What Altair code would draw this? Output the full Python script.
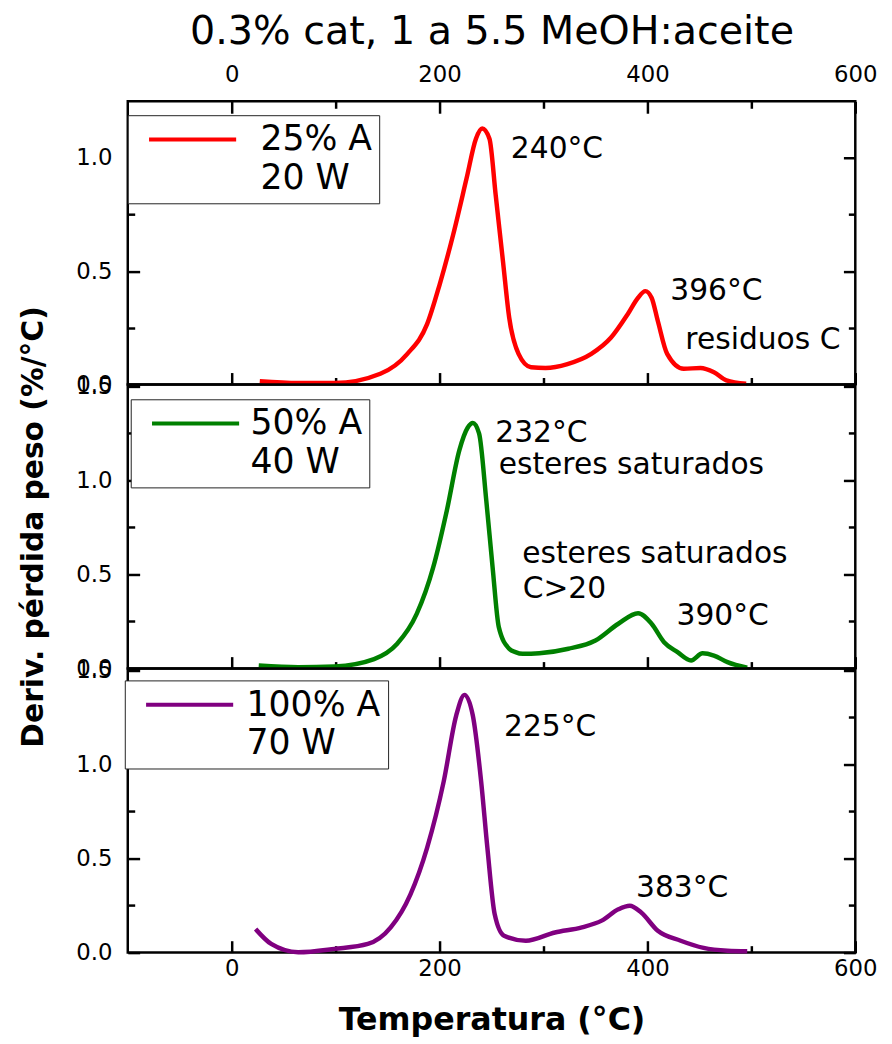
import altair as alt
import pandas as pd

FONT = "DejaVu Sans"

# ---------------- data ----------------
temp_25 = [27, 64, 99, 143, 169, 188, 200, 213, 226, 235, 241, 248, 254, 261, 267, 276, 288,
           302, 323, 346, 365, 381, 391, 398, 404, 410, 419, 435, 451, 464, 476, 495]
dtg_25 = [0.014, 0.006, 0.006, 0.047, 0.135, 0.266, 0.44, 0.66, 0.91, 1.085, 1.13, 1.085,
          0.836, 0.544, 0.295, 0.135, 0.076, 0.073, 0.09, 0.135, 0.207, 0.31, 0.383, 0.412,
          0.383, 0.28, 0.135, 0.069, 0.073, 0.054, 0.018, 0.003]

temp_50 = [26, 64, 99, 137, 159, 178, 194, 207, 219, 227, 232, 238, 245, 251, 257, 267, 273,
           280, 296, 324, 350, 372, 391, 404, 416, 429, 442, 453, 464, 477, 496]
dtg_50 = [0.016, 0.007, 0.011, 0.05, 0.13, 0.29, 0.54, 0.84, 1.16, 1.28, 1.305, 1.25, 0.89,
          0.54, 0.22, 0.105, 0.087, 0.078, 0.081, 0.105, 0.149, 0.238, 0.294, 0.238, 0.14,
          0.087, 0.043, 0.081, 0.069, 0.034, 0.004]

temp_100 = [23, 38, 64, 99, 131, 153, 172, 188, 204, 216, 224, 232, 240, 246, 253, 262, 283,
            311, 337, 356, 372, 383, 394, 410, 432, 454, 477, 496]
dtg_100 = [0.125, 0.046, 0.002, 0.02, 0.046, 0.134, 0.31, 0.557, 0.91, 1.26, 1.37, 1.26, 0.91,
           0.557, 0.205, 0.09, 0.063, 0.107, 0.134, 0.17, 0.23, 0.249, 0.213, 0.116, 0.063,
           0.025, 0.01, 0.007]

legend_line1 = ["25% A", "50% A", "100% A"]
legend_line2 = ["20 W", "40 W", "70 W"]
colors = ["#ff0000", "#008000", "#800080"]

x_ticks_major = [0, 200, 400, 600]
x_ticks_minor = [100, 300, 500]
y_ticks_major = [[0, 0.5, 1.0], [0, 0.5, 1.0, 1.5], [0, 0.5, 1.0, 1.5]]
y_ticks_minor = [[0.25, 0.75], [0.25, 0.75, 1.25], [0.25, 0.75, 1.25]]
y_max = [1.25, 1.51, 1.51]

ann_panel = [0, 0, 0, 1, 1, 1, 1, 1, 2, 2]
ann_text = ["240°C", "396°C", "residuos C", "232°C", "esteres saturados",
            "esteres saturados", "C>20", "390°C", "225°C", "383°C"]
ann_x = [268.6, 422, 436.5, 253.6, 256.9, 279.5, 280, 428, 262, 389]
ann_y = [1.04, 0.41, 0.194, 1.25, 1.08, 0.61, 0.42, 0.28, 1.2, 0.344]

title_text = "0.3% cat, 1 a 5.5 MeOH:aceite"
x_title = "Temperatura (°C)"
y_title = "Deriv. pérdida peso (%/°C)"

# ---------------- layout / style ----------------
W = 735
HEIGHTS = [286, 287, 287]
TICK_W = 2.5
MAJOR = 12
MINOR = 7
legend_pos = [(0, 14, 51), (3, 15, 38), (-3, 12, 40)]  # legendX, legendY, labelOffset


def tick_axis(orient, values, size, offset):
    return alt.Axis(orient=orient, values=values, tickSize=size, offset=offset,
                    labels=False, domain=False, grid=False, ticks=True,
                    tickColor="black", tickWidth=TICK_W, title=None)


def label_axis(orient, values, fmt, pad, title=None, tsize=None, tweight="normal", tpad=0):
    kw = dict(orient=orient, values=values, ticks=False, tickSize=0, domain=False,
              grid=False, labels=True, labelFont=FONT, labelFontSize=23,
              labelColor="black", labelPadding=pad, labelFlush=False,
              labelOverlap=False, format=fmt)
    if title:
        kw.update(title=title, titleFont=FONT, titleFontSize=tsize,
                  titleFontWeight=tweight, titlePadding=tpad, titleColor="black")
    else:
        kw["title"] = None
    return alt.Axis(**kw)


def panel(i, temps, vals):
    H = HEIGHTS[i]
    n1, n2 = legend_line1[i], legend_line2[i]
    df = pd.DataFrame({"T": temps, "D": vals, "S": n1})
    xs = alt.Scale(domain=[-100, 600], nice=False, zero=False)
    ys = alt.Scale(domain=[0, y_max[i]], nice=False, zero=False)

    xaxes = []
    if i == 0:
        xaxes.append(label_axis("top", x_ticks_major, "d", 15, title_text, 40, "normal", 12))
    if i == 2:
        xaxes.append(label_axis("bottom", x_ticks_major, "d", 5, x_title, 32, "bold", 25))
    xaxes.append(tick_axis("top", x_ticks_major, MAJOR, -H))
    xaxes.append(tick_axis("top", x_ticks_minor, MINOR, -H))
    if i == 0:
        xaxes.append(tick_axis("bottom", x_ticks_major, MAJOR, -H))
        xaxes.append(tick_axis("bottom", x_ticks_minor, MINOR, -H))

    yaxes = [
        label_axis("left", y_ticks_major[i], ".1f", 16,
                   y_title if i == 1 else None, 30, "bold", 28),
        tick_axis("right", y_ticks_major[i], MAJOR, -W),
        tick_axis("right", y_ticks_minor[i], MINOR, -W),
        tick_axis("left", y_ticks_major[i], MAJOR, -W),
        tick_axis("left", y_ticks_minor[i], MINOR, -W),
    ]

    lx, ly, loff = legend_pos[i]
    n = max(len(xaxes), len(yaxes))
    layers = []
    for k in range(n):
        xa = xaxes[k] if k < len(xaxes) else None
        ya = yaxes[k] if k < len(yaxes) else None
        enc = dict(x=alt.X("T:Q", scale=xs, axis=xa), y=alt.Y("D:Q", scale=ys, axis=ya))
        if k == 0:
            lay = alt.Chart(df).mark_line(strokeWidth=4.5, interpolate="monotone").encode(
                color=alt.Color("S:N",
                                scale=alt.Scale(domain=[n1, n2], range=[colors[i], "transparent"]),
                                legend=alt.Legend(orient="none", legendX=lx, legendY=ly, title=None,
                                                  symbolType="M-4,0H4", symbolSize=484,
                                                  symbolStrokeWidth=4, symbolOffset=41,
                                                  labelOffset=loff, labelFont=FONT,
                                                  labelFontSize=35, labelColor="black",
                                                  labelLimit=300, padding=7, rowPadding=3,
                                                  strokeColor="#222222", fillColor="white")),
                **enc)
        else:
            lay = alt.Chart(df).mark_line(opacity=0).encode(**enc)
        layers.append(lay)

    adf = pd.DataFrame({
        "t": [t for p, t in zip(ann_panel, ann_text) if p == i],
        "x": [x for p, x in zip(ann_panel, ann_x) if p == i],
        "y": [y for p, y in zip(ann_panel, ann_y) if p == i],
    })
    txt = alt.Chart(adf).mark_text(align="left", baseline="middle", font=FONT, fontSize=30,
                                   color="black").encode(
        x=alt.X("x:Q", scale=xs, axis=None),
        y=alt.Y("y:Q", scale=ys, axis=None),
        text="t:N")
    layers.append(txt)
    return alt.layer(*layers).resolve_axis(x="independent", y="independent").properties(
        width=W, height=H)


p1 = panel(0, temp_25, dtg_25)
p2 = panel(1, temp_50, dtg_50)
p3 = panel(2, temp_100, dtg_100)

chart = alt.vconcat(p1, p2, p3, spacing=0, bounds="flush").resolve_scale(
    color="independent").properties(
    padding={"left": 9, "top": -3, "right": 5, "bottom": -2}
).configure(font=FONT).configure_view(stroke="black", strokeWidth=2.5)

chart.save("out.html", embed_options={"renderer": "svg", "actions": False})
